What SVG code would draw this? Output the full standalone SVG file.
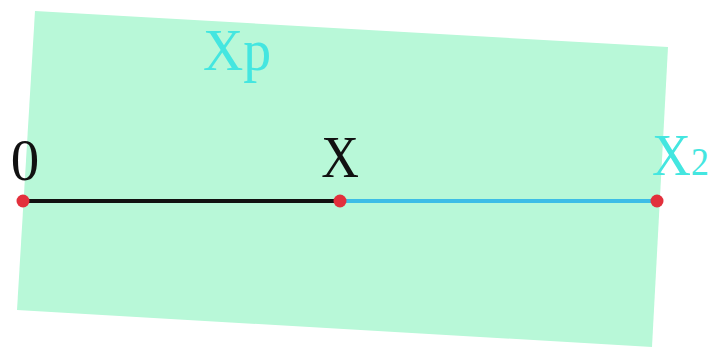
<svg xmlns="http://www.w3.org/2000/svg" width="712" height="347" viewBox="0 0 712 347">
  <style>
    .lbl { font-family: "Liberation Serif", "Times New Roman", serif; font-size: 60px; }
    .dark { fill: #111111; }
    .cyan { fill: #44E6E0; }
    .dot { fill: #E2303C; }
  </style>
  <rect width="712" height="347" fill="#ffffff"/>
  <g id="plane">
    <polygon points="35,11 668,47 652,347 17,310" fill="#B8F8D8"/>
    <text class="lbl cyan" transform="translate(203,70) scale(0.93,1)">Xp</text>
  </g>
  <g id="connectors">
    <line x1="23" y1="201" x2="340" y2="201" stroke="#111111" stroke-width="4"/>
    <line x1="340" y1="201" x2="657" y2="201" stroke="#3DBDE6" stroke-width="4"/>
  </g>
  <g id="node-0">
    <circle class="dot" cx="23" cy="201" r="6.5"/>
    <text class="lbl dark" transform="translate(25,180) scale(0.95,1)" text-anchor="middle">0</text>
  </g>
  <g id="node-X">
    <circle class="dot" cx="340" cy="201" r="6.5"/>
    <text class="lbl dark" transform="translate(340,177) scale(0.87,1)" text-anchor="middle">X</text>
  </g>
  <g id="node-X2">
    <circle class="dot" cx="657" cy="201" r="6.5"/>
    <text class="lbl cyan" transform="translate(652,175) scale(0.9,1)">X<tspan font-size="40">2</tspan></text>
  </g>
</svg>
